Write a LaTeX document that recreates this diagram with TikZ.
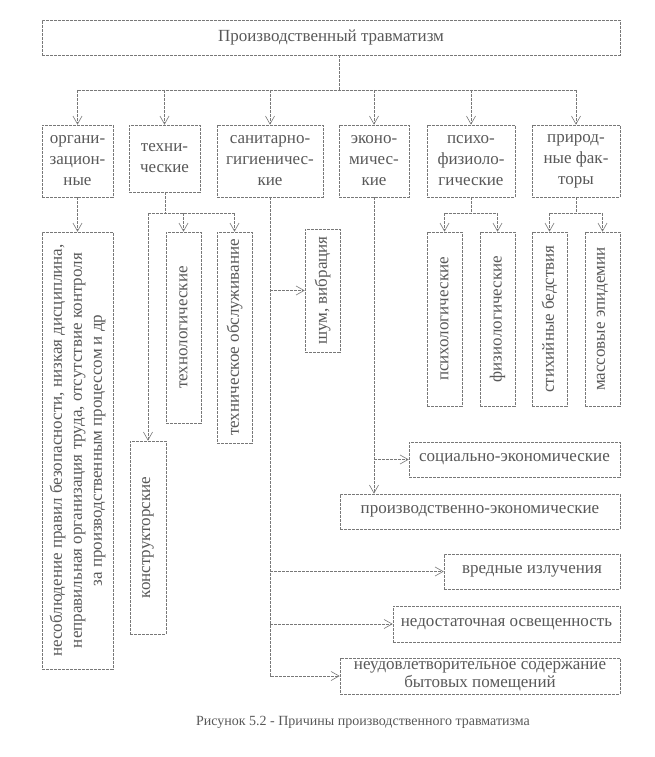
\documentclass[tikz,border=0pt]{standalone}
\usepackage{fontspec}
\setmainfont{Liberation Serif}
\usetikzlibrary{arrows.meta}
\definecolor{txt}{RGB}{88,88,88}
\definecolor{ln}{RGB}{120,120,120}
\begin{document}
\begin{tikzpicture}[x=1pt,y=-1pt,
  font=\fontsize{17pt}{21pt}\selectfont,
  box/.style={draw=ln, line width=0.6pt, dash pattern=on 3pt off 1pt, text=txt, inner sep=0pt, align=center},
  plain/.style={text=txt, inner sep=0pt},
  conn/.style={draw=ln, line width=0.6pt, dash pattern=on 3pt off 1pt},
  arr/.style={conn, -{Straight Barb[length=8pt,width=9pt,line width=0.6pt]}}]
\useasboundingbox (0,0) rectangle (654,757);
% top
\node[box, minimum width=578pt, minimum height=35pt] (top) at (331,37.5) {Производственный травматизм};
% level 1
\node[box, minimum width=71pt, minimum height=72pt] (org) at (77.5,161) {органи-\\зацион-\\ные};
\node[box, minimum width=71pt, minimum height=67pt] (tech) at (164.5,158.5) {техни-\\ческие};
\node[box, minimum width=106pt, minimum height=72pt] (san) at (270,161) {санитарно-\\гигиеничес-\\кие};
\node[box, minimum width=70pt, minimum height=72pt] (econ) at (374,161) {эконо-\\мичес-\\кие};
\node[box, minimum width=88pt, minimum height=72pt] (psy) at (471,161) {психо-\\физиоло-\\гические};
\node[box, minimum width=88pt, minimum height=72pt] (nat) at (576,161) {природ-\\ные фак-\\торы};
% level 2 vertical boxes
\node[box, minimum width=71pt, minimum height=437pt] (orgsub) at (77.5,450.5)
  {\rotatebox{90}{\parbox{428pt}{\centering\fontsize{17pt}{20pt}\selectfont
   несоблюдение правил безопасности, низкая дисциплина,\\
   неправильная организация труда, отсутствие контроля\\
   за производственным процессом и др}}};
\node[box, minimum width=36pt, minimum height=193pt] (konstr) at (148,537.5) {\rotatebox{90}{конструкторские}};
\node[box, minimum width=35pt, minimum height=191pt] (technol) at (183.5,327.5) {\rotatebox{90}{технологические}};
\node[box, minimum width=35pt, minimum height=211pt] (techobs) at (234.5,337.5) {\rotatebox{90}{техническое обслуживание}};
\node[box, minimum width=35pt, minimum height=123pt] (shum) at (322.5,290.5) {\rotatebox{90}{шум, вибрация}};
\node[box, minimum width=35pt, minimum height=174pt] (psyhol) at (444.5,319) {\rotatebox{90}{психологические}};
\node[box, minimum width=35pt, minimum height=174pt] (fiziol) at (497.5,319) {\rotatebox{90}{физиологические}};
\node[box, minimum width=35pt, minimum height=174pt] (stih) at (549.5,319) {\rotatebox{90}{стихийные бедствия}};
\node[box, minimum width=35pt, minimum height=174pt] (mass) at (602.5,319) {\rotatebox{90}{массовые эпидемии}};
% horizontal leaf boxes
\node[box, minimum width=211pt, minimum height=35pt] (soc) at (514.5,459.5) {социально-экономические};
\node[box, minimum width=280pt, minimum height=35pt] (proizv) at (480,511.5) {производственно-экономические};
\node[box, minimum width=176pt, minimum height=35pt] (vred) at (532,571.5) {вредные излучения};
\node[box, minimum width=227pt, minimum height=36pt] (nedost) at (506.5,624) {недостаточная освещенность};
\node[box, minimum width=280pt, minimum height=36pt] (neud) at (480,676) {неудовлетворительное содержание\\[-3pt]бытовых помещений};
% caption
\node[plain, font=\fontsize{14pt}{17pt}\selectfont] (cap) at (363,722) {Рисунок 5.2 - Причины производственного травматизма};
% junctions
\coordinate (j0) at (339,90);
\coordinate (tj) at (165,213);
\coordinate (pj) at (471,213);
\coordinate (nj) at (576,213);
% connectors
\draw[conn] (top.south -| j0) -- (j0);
\draw[conn] (org |- j0) -- (nat |- j0);
\foreach \n in {org,tech,san,econ,psy,nat} \draw[arr] (\n |- j0) -- (\n.north);
\draw[arr] (org.south) -- (orgsub.north);
\draw[conn] (tech.south -| tj) -- (tj);
\draw[conn] (konstr |- tj) -- (techobs |- tj);
\draw[arr] (konstr |- tj) -- (konstr.north);
\draw[arr] (technol |- tj) -- (technol.north);
\draw[arr] (techobs |- tj) -- (techobs.north);
\draw[arr] (san.south) |- (neud.west);
\draw[arr] (san.south |- shum.west) -- (shum.west);
\draw[arr] (san.south |- vred.west) -- (vred.west);
\draw[arr] (san.south |- nedost.west) -- (nedost.west);
\draw[arr] (econ.south) -- (econ.south |- proizv.north);
\draw[arr] (econ.south |- soc.west) -- (soc.west);
\draw[conn] (psy.south) -- (pj);
\draw[conn] (psyhol |- pj) -- (fiziol |- pj);
\draw[arr] (psyhol |- pj) -- (psyhol.north);
\draw[arr] (fiziol |- pj) -- (fiziol.north);
\draw[conn] (nat.south) -- (nj);
\draw[conn] (stih |- nj) -- (mass |- nj);
\draw[arr] (stih |- nj) -- (stih.north);
\draw[arr] (mass |- nj) -- (mass.north);
\end{tikzpicture}
\end{document}
